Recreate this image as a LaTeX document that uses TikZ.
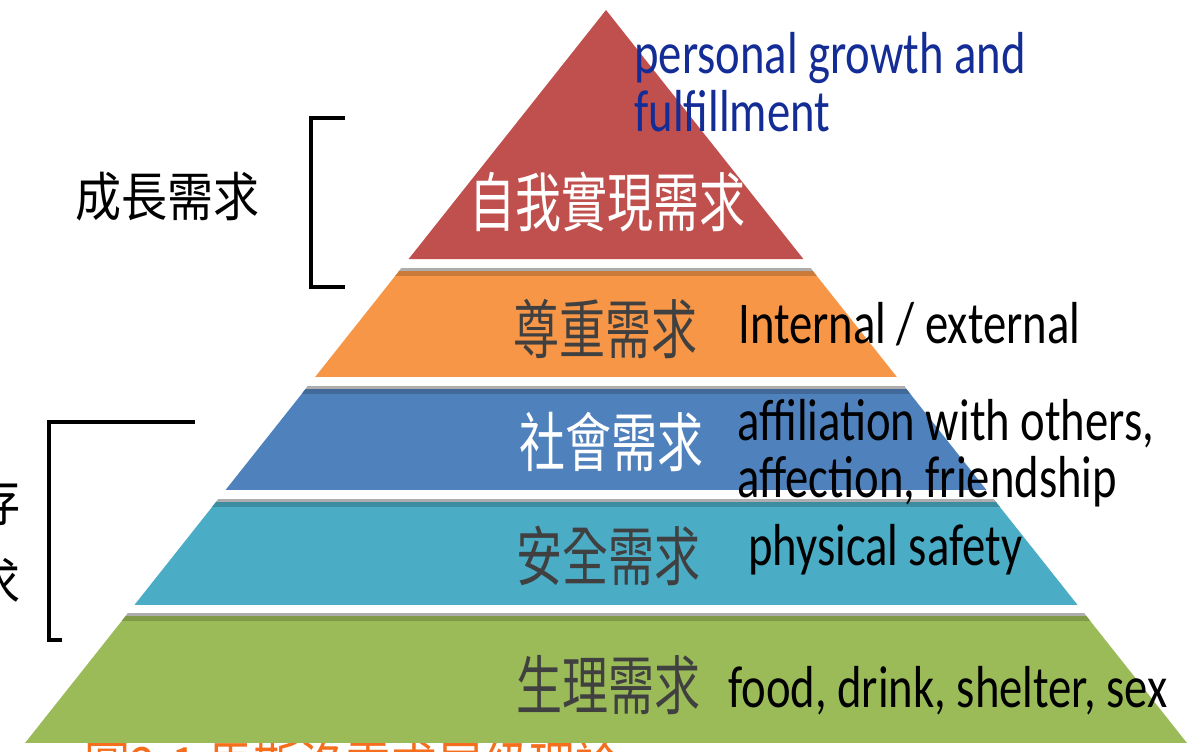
\documentclass[tikz,border=0pt]{standalone}
\usepackage{fontspec}
\usepackage{graphicx}
\setmainfont{Carlito}
\newfontfamily\cjkf{Noto Sans CJK TC}
\definecolor{pRed}{RGB}{192,80,77}
\definecolor{pOrange}{RGB}{247,150,70}
\definecolor{pBlue}{RGB}{79,129,189}
\definecolor{pCyan}{RGB}{75,172,198}
\definecolor{pGreen}{RGB}{155,187,89}
\definecolor{txtGray}{RGB}{64,64,64}
\definecolor{txtBlue}{RGB}{20,45,150}
\definecolor{capOrange}{RGB}{245,110,30}
\newcommand{\tallC}[1]{\scalebox{1}[1.4]{#1}}
\newcommand{\tallE}[1]{\scalebox{1}[1.27]{#1}}
\newcommand{\tallL}[1]{\scalebox{1}[1.15]{#1}}
\newcommand{\pyrlayer}[3]{%
  \begin{scope}
    \clip ({606-0.7926*(#1-10)},#1) -- ({606+0.7926*(#1-10)},#1)
      -- ({606+0.7926*(#2-10)},#2) -- ({606-0.7926*(#2-10)},#2) -- cycle;
    \fill[#3] (0,#1) rectangle (1202,#2);
    \fill[black!32] (0,#1) rectangle (1202,{#1+3});
    \fill[#3!82!black] (0,{#1+3}) rectangle (1202,{#1+8});
  \end{scope}}
\tikzset{
  cjkbig/.style={font=\cjkf\fontsize{34.5}{40}\selectfont, inner sep=0pt},
  engtxt/.style={font=\fontsize{35}{40}\selectfont, inner sep=0pt, anchor=base west},
  bracket/.style={draw=black, line width=2.3pt},
}
\begin{document}
\begin{tikzpicture}[x=0.75pt,y=-0.75pt]
\useasboundingbox (0,0) rectangle (1202,751);
% caption (cut off at the bottom), drawn first so the pyramid covers it
\node[cjkbig, text=capOrange, anchor=north west] (cap) at (84,741) {\tallL{圖2-1 馬斯洛需求層級理論}};
% layers
\fill[pRed] (606,10) -- ({606+0.7926*249},259) -- ({606-0.7926*249},259) -- cycle;
\pyrlayer{268}{377}{pOrange}
\pyrlayer{386}{490}{pBlue}
\pyrlayer{499}{605}{pCyan}
\pyrlayer{613}{743}{pGreen}
% pyramid labels
\node[cjkbig, text=white] (t1) at (607,202) {\tallC{自我實現需求}};
\node[cjkbig, text=txtGray] (t2) at (605,329) {\tallC{尊重需求}};
\node[cjkbig, text=white] (t3) at (611,442) {\tallC{社會需求}};
\node[cjkbig, text=txtGray] (t4) at (608,556) {\tallC{安全需求}};
\node[cjkbig, text=txtGray] (t5) at (608,685) {\tallC{生理需求}};
% english descriptions
\node[engtxt, text=txtBlue] (e1a) at (634,73) {\tallE{personal growth and}};
\node[engtxt, text=txtBlue] (e1b) at (634,131) {\tallE{fulfillment}};
\node[engtxt, text=black] (e2) at (738,343) {\tallE{Internal / external}};
\node[engtxt, text=black] (e3a) at (737,440) {\tallE{affiliation with others,}};
\node[engtxt, text=black] (e3b) at (737,497) {\tallE{affection, friendship}};
\node[engtxt, text=black] (e4) at (748,565) {\tallE{physical safety}};
\node[engtxt, text=black] (e5) at (728,707) {\tallE{food, drink, shelter, sex}};
% brackets
\coordinate (ba) at (345,118);
\coordinate (bb) at (311,118);
\coordinate (bc) at (311,287);
\coordinate (bd) at (345,287);
\draw[bracket] (ba) -- (bb) -- (bc) -- (bd);
\coordinate (ca) at (195,422);
\coordinate (cb) at (49,422);
\coordinate (cc) at (49,640);
\coordinate (cd) at (62,640);
\draw[bracket] (ca) -- (cb) -- (cc) -- (cd);
% side labels
\node[cjkbig, text=black] (g1) at (167,197) {\tallL{成長需求}};
\node[cjkbig, text=black, anchor=east] (g2) at (21,501) {\tallL{生存}};
\node[cjkbig, text=black, anchor=east] (g3) at (21,582) {\tallL{需求}};
\end{tikzpicture}
\end{document}
